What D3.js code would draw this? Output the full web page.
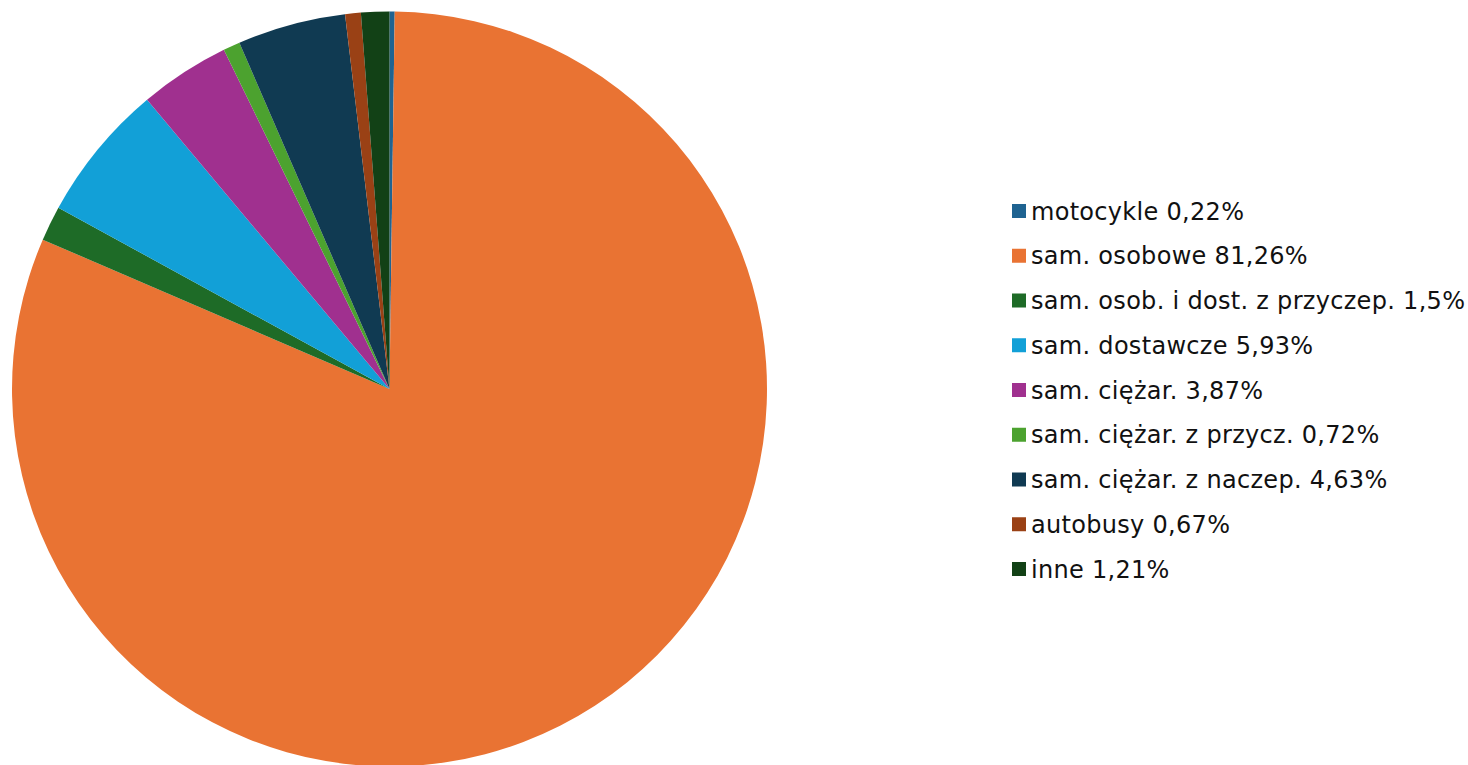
<!DOCTYPE html>
<html>
<head>
<meta charset="utf-8">
<script src="https://cdn.jsdelivr.net/npm/d3@7"></script>
<style>
  body { margin: 0; background: #fff; }
  text { font-family: "DejaVu Sans", Verdana, sans-serif; }
</style>
</head>
<body>
<script>
var width = 1468, height = 765;

var categories = ["motocykle", "sam. osobowe", "sam. osob. i dost. z przyczep.", "sam. dostawcze",
    "sam. ciężar.", "sam. ciężar. z przycz.", "sam. ciężar. z naczep.", "autobusy", "inne"];
var shares = [0.22, 81.26, 1.5, 5.93, 3.87, 0.72, 4.63, 0.67, 1.21];
var shareLabels = ["0,22%", "81,26%", "1,5%", "5,93%", "3,87%", "0,72%", "4,63%", "0,67%", "1,21%"];
var colors = ["#1f6391", "#e97333", "#1e6b27", "#12a0d7", "#a0308f", "#4ca22f", "#103a52", "#9a4115", "#124116"];

var data = categories.map((c, i) => ({ name: c, value: shares[i], label: shareLabels[i], color: colors[i] }));

var cx = 389.5, cy = 389, radius = 377.5;

const svg = d3.select("body")
    .append("svg")
    .attr("width", width)
    .attr("height", height);

const pie = d3.pie().value(d => d.value).sort(null);
const arc = d3.arc().innerRadius(0).outerRadius(radius);

svg.append("g")
    .attr("transform", `translate(${cx}, ${cy})`)
    .selectAll("path")
    .data(pie(data))
    .join("path")
    .attr("d", arc)
    .attr("fill", d => d.data.color);

// legend
var rowY = d3.scaleLinear([0, categories.length - 1], [211, 569]);

const legend = svg.append("g")
    .selectAll("g")
    .data(data)
    .join("g")
    .attr("transform", (d, i) => `translate(1012, ${rowY(i)})`);

legend.append("rect")
    .attr("x", 0)
    .attr("y", -7)
    .attr("width", 14)
    .attr("height", 14)
    .attr("fill", d => d.color);

legend.append("text")
    .attr("x", 19)
    .attr("y", 0)
    .attr("dy", "0.36em")
    .attr("font-size", 24)
    .attr("letter-spacing", 0.3)
    .attr("fill", "#111")
    .text(d => d.name + " " + d.label);
</script>
</body>
</html>
